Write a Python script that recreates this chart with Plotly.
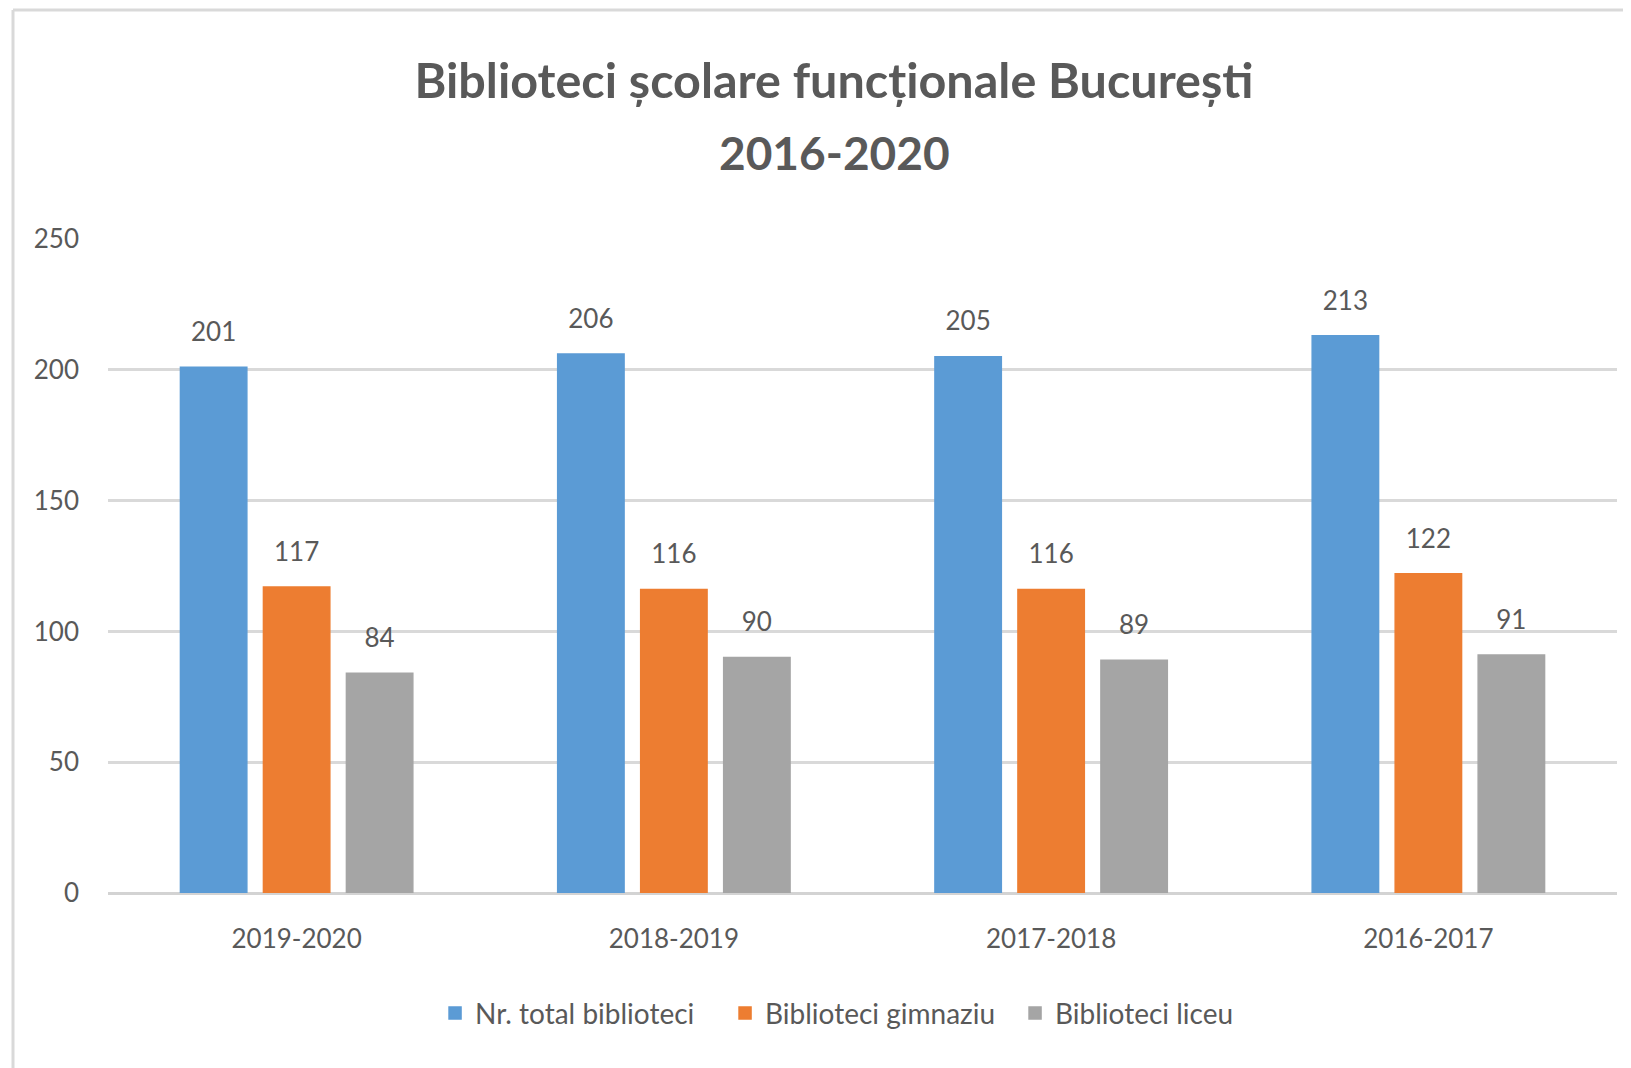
import plotly.graph_objects as go

categories = ["2019-2020", "2018-2019", "2017-2018", "2016-2017"]
total = [201, 206, 205, 213]
gimnaziu = [117, 116, 116, 122]
liceu = [84, 90, 89, 91]
series_names = ["Nr. total biblioteci", "Biblioteci gimnaziu", "Biblioteci liceu"]
series_values = [total, gimnaziu, liceu]
colors = ["#5B9BD5", "#ED7D31", "#A5A5A5"]
y_ticks = [0, 50, 100, 150, 200, 250]
title_line1 = "Biblioteci școlare funcționale București"
title_line2 = "2016-2020"

FONT = "Lato, sans-serif"
TXT = "#595959"

fig = go.Figure()
for i, (name, vals, col) in enumerate(zip(series_names, series_values, colors)):
    fig.add_trace(go.Bar(
        x=categories, y=vals, name=name, marker=dict(color=col, line=dict(width=1.5, color=col)),
        offsetgroup=str(i), hoverinfo="skip",
    ))
for i, (name, vals) in enumerate(zip(series_names, series_values)):
    fig.add_trace(go.Scatter(
        x=categories, y=vals, mode="markers+text", text=[str(v) for v in vals],
        textposition="top center", textfont=dict(family=FONT, size=26, color=TXT),
        marker=dict(size=30, opacity=0), offsetgroup=str(i), showlegend=False,
        hoverinfo="skip", cliponaxis=False,
    ))

fig.update_layout(
    width=1631, height=1068,
    margin=dict(l=100, r=22, t=231, b=183),
    paper_bgcolor="white", plot_bgcolor="white",
    barmode="group", scattermode="group", bargap=0.34, bargroupgap=0.2,
    title=dict(
        text=title_line1,
        x=826 / 1631, xanchor="center", y=1 - 73 / 1068, yanchor="middle", yref="container",
        font=dict(family=FONT, size=48.5, color=TXT, weight="bold"),
    ),
    annotations=[dict(
        text=title_line2, xref="paper", yref="paper", x=(834 - 108) / 1509, y=(893 - 152) / 654,
        xanchor="center", yanchor="middle", showarrow=False,
        font=dict(family=FONT, size=46, color=TXT, weight="bold"),
    )],
    legend=dict(
        orientation="h", x=0.505, xanchor="center", y=-0.184, yanchor="middle",
        font=dict(family=FONT, size=28, color=TXT), itemclick=False,
        entrywidth=245, entrywidthmode="pixels",
    ),
    showlegend=True,
    xaxis=dict(
        type="category", showgrid=False, showline=False, zeroline=False,
        tickfont=dict(family=FONT, size=26, color=TXT), ticks="", ticklabelstandoff=28,
    ),
    yaxis=dict(
        range=[0, 250], tickvals=y_ticks, showgrid=True, gridcolor="#d9d9d9", gridwidth=2.5,
        zeroline=True, zerolinecolor="#d3d3d3", zerolinewidth=3, showline=False,
        tickfont=dict(family=FONT, size=26, color=TXT), ticks="", ticklabelstandoff=28,
    ),
    shapes=[
        dict(type="line", xref="paper", yref="paper", x0=(13 - 108) / 1509, x1=1.1,
             y0=(893 - 10) / 654, y1=(893 - 10) / 654, line=dict(color="#d9d9d9", width=3)),
        dict(type="line", xref="paper", yref="paper", x0=(13 - 108) / 1509, x1=(13 - 108) / 1509,
             y0=(893 - 10) / 654, y1=-0.5, line=dict(color="#d9d9d9", width=3)),
    ],
)

fig.write_html("out.html")
